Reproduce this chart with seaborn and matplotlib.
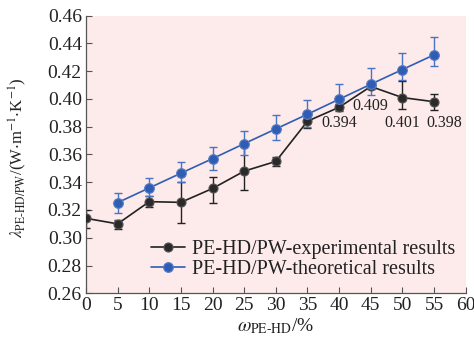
import numpy as np
import pandas as pd
import matplotlib
matplotlib.use("Agg")
import matplotlib.pyplot as plt
import seaborn as sns

# ---- data ----
x_exp = [0, 5, 10, 15, 20, 25, 30, 35, 40, 45, 50, 55]
y_exp = [0.314, 0.310, 0.326, 0.3255, 0.3355, 0.348, 0.355, 0.384, 0.394, 0.409, 0.401, 0.398]
exp_err_low = [0.007, 0.004, 0.0036, 0.015, 0.0105, 0.0137, 0.0032, 0.005, 0.003, 0.002, 0.0084, 0.0062]
exp_err_up = [0.006, 0.0031, 0.0043, 0.0145, 0.0085, 0.021, 0.0032, 0.005, 0.0025, 0.002, 0.0118, 0.0058]

x_th = [5, 10, 15, 20, 25, 30, 35, 40, 45, 50, 55]
y_th = [0.3253, 0.3359, 0.3465, 0.357, 0.3678, 0.3784, 0.389, 0.3998, 0.4106, 0.4212, 0.4318]
th_err_low = [0.0072, 0.0057, 0.0066, 0.0079, 0.0079, 0.0079, 0.0089, 0.0079, 0.0077, 0.0074, 0.0080]
th_err_up = [0.0072, 0.0072, 0.0079, 0.0084, 0.0091, 0.0100, 0.0103, 0.0108, 0.0115, 0.0120, 0.0127]

ann_x = [40, 45, 50, 55]
ann_vals = [0.394, 0.409, 0.401, 0.398]
ann_text = ["0.394", "0.409", "0.401", "0.398"]

xticks = list(range(0, 61, 5))
yticks = [0.26, 0.28, 0.30, 0.32, 0.34, 0.36, 0.38, 0.40, 0.42, 0.44, 0.46]

label_exp = "PE-HD/PW-experimental results"
label_th = "PE-HD/PW-theoretical results"

df_exp = pd.DataFrame({"x": x_exp, "y": y_exp})
df_th = pd.DataFrame({"x": x_th, "y": y_th})

sns.set_theme(style="ticks")
plt.rcParams["font.family"] = ["Liberation Serif", "DejaVu Serif"]
plt.rcParams["mathtext.fontset"] = "stix"

fig = plt.figure(figsize=(4.74, 3.41), dpi=100)
ax = fig.add_axes([0.1814, 0.140, 0.8011, 0.814])
ax.set_facecolor("#fdeaea")

black = "#222222"
blue = "#2f5db3"

sns.lineplot(data=df_exp, x="x", y="y", ax=ax, color=black, lw=1.2,
             marker="o", markersize=6.5, markeredgecolor="#555555",
             markerfacecolor="#2a2a2a", markeredgewidth=0.8, label=label_exp, zorder=3)
sns.lineplot(data=df_th, x="x", y="y", ax=ax, color=blue, lw=1.2,
             marker="o", markersize=7, markeredgecolor="#5b7fc4",
             markerfacecolor="#2f5db3", markeredgewidth=0.8, label=label_th, zorder=4)

ax.errorbar(x_exp, y_exp, yerr=[exp_err_low, exp_err_up], fmt="none",
            ecolor=black, elinewidth=1.0, capsize=3, capthick=1.0, zorder=2)
ax.errorbar(x_th, y_th, yerr=[th_err_low, th_err_up], fmt="none",
            ecolor="#4a74c2", elinewidth=1.0, capsize=3, capthick=1.0, zorder=2)

offsets = [(0, -11.5), (0, -14), (0, -18), (7, -15)]
for xv, yv, t, (dx, dy) in zip(ann_x, ann_vals, ann_text, offsets):
    ax.annotate(t, (xv, yv), xytext=(dx, dy), textcoords="offset points",
                ha="center", va="center", fontsize=11.5, color="#222222")

ax.set_xlim(0, 60)
ax.set_ylim(0.26, 0.46)
ax.set_xticks(xticks)
ax.set_yticks(yticks)
ax.set_xticklabels([str(v) for v in xticks])
ax.set_yticklabels([f"{v:.2f}" for v in yticks])
ax.tick_params(direction="in", length=4, width=0.8, color="#555555",
               labelsize=14, labelcolor="#222222", pad=3)
for s in ["top", "right"]:
    ax.spines[s].set_visible(False)
for s in ["left", "bottom"]:
    ax.spines[s].set_color("#555555")
    ax.spines[s].set_linewidth(0.9)

ax.set_xlabel(r"$\omega_{\mathrm{PE\text{-}HD}}$/%", fontsize=14, color="#222222", labelpad=1)
ax.set_ylabel(r"$\lambda_{\mathrm{PE\text{-}HD/PW}}$/(W$\cdot$m$^{-1}$$\cdot$K$^{-1}$)",
              fontsize=12, color="#222222")
ax.yaxis.set_label_coords(-0.151, 0.489)

leg = ax.legend(loc="lower right", bbox_to_anchor=(1.0, 0.0144), frameon=False,
                fontsize=14.5, handlelength=1.7,
                handletextpad=0.35, borderaxespad=0.2, borderpad=0.3, labelspacing=0.05)
for t in leg.get_texts():
    t.set_color("#222222")

fig.savefig("out.png", dpi=100)
